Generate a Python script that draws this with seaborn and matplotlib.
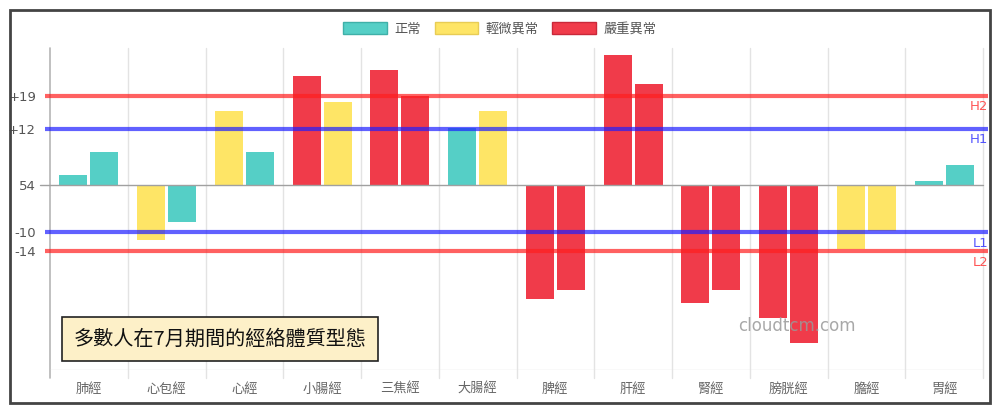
import numpy as np
import pandas as pd
import matplotlib
matplotlib.use("Agg")
import matplotlib.pyplot as plt
from matplotlib.patches import Patch, Rectangle
import seaborn as sns

# ---------------- data ----------------
categories = ["肺經", "心包經", "心經", "小腸經", "三焦經", "大腸經",
              "脾經", "肝經", "腎經", "膀胱經", "膽經", "胃經"]
first_values = [2.1, -11.7, 15.7, 23.2, 24.5, 12.1, -24.3, 27.7, -25.1, -28.3, -13.6, 0.9]
second_values = [7.0, -7.9, 7.0, 17.7, 18.9, 15.7, -22.3, 21.5, -22.3, -33.6, -9.8, 4.3]
first_status = ["正常", "輕微異常", "輕微異常", "嚴重異常", "嚴重異常", "正常",
                "嚴重異常", "嚴重異常", "嚴重異常", "嚴重異常", "輕微異常", "正常"]
second_status = ["正常", "正常", "正常", "輕微異常", "嚴重異常", "輕微異常",
                 "嚴重異常", "嚴重異常", "嚴重異常", "嚴重異常", "輕微異常", "正常"]
status_names = ["正常", "輕微異常", "嚴重異常"]
threshold_values = [19, 12, -10, -14]
threshold_names = ["H2", "H1", "L1", "L2"]
ytick_values = [19, 12, 0, -10, -14]
ytick_labels = ["+19", "+12", "54", "-10", "-14"]
title_text = "多數人在7月期間的經絡體質型態"
watermark = "cloudtcm.com"

# ---------------- styles ----------------
sns.set_theme(style="white")
plt.rcParams["font.family"] = ["Noto Sans CJK TC", "DejaVu Sans"]

status_colors = {"正常": "#55CFC6", "輕微異常": "#FEE566", "嚴重異常": "#F03B4A"}
status_edges = {"正常": "#3FB0A8", "輕微異常": "#E8CC55", "嚴重異常": "#C9283A"}
line_colors = {"H2": "#FF1E1E", "H1": "#1E1EFF", "L1": "#1E1EFF", "L2": "#FF1E1E"}

W, H = 1000, 415
fig = plt.figure(figsize=(W / 100, H / 100), dpi=100)
fig.patch.set_facecolor("white")

ax_left, ax_right, ax_top, ax_bottom = 50, 983, 48, 370
ax = fig.add_axes([ax_left / W, (H - ax_bottom) / H,
                   (ax_right - ax_left) / W, (ax_bottom - ax_top) / H])

df = pd.DataFrame({
    "category": categories * 2,
    "value": first_values + second_values,
    "slot": ["a"] * len(categories) + ["b"] * len(categories),
    "status": first_status + second_status,
})

sns.barplot(data=df, x="category", y="value", hue="slot", order=categories,
            hue_order=["a", "b"], palette=["#888888", "#888888"], width=0.8,
            gap=0.1, legend=False, ax=ax, linewidth=0, zorder=2)

bars = [p for p in ax.patches if isinstance(p, Rectangle)]
for p, st in zip(bars, df["status"]):
    p.set_facecolor(status_colors[st])
    p.set_edgecolor(status_colors[st])
    p.set_linewidth(0)

ppu = 4.7  # pixels per unit
ymax = (185 - ax_top) / ppu
ymin = -(ax_bottom - 185) / ppu
ax.set_ylim(ymin, ymax)
ax.set_xlim(-0.5, len(categories) - 0.5)

for s in ax.spines.values():
    s.set_visible(False)

# vertical grid lines at category boundaries
ext = 8 / ppu
for i in range(len(categories) + 1):
    xb = i - 0.5
    col = "#b5b5b5" if i == 0 else "#e3e3e3"
    ax.plot([xb, xb], [ymin - ext, ymax], color=col, lw=1.0 if i else 1.2,
            clip_on=False, zorder=1)
# bottom axis line
ax.axhline(ymin, color="#e3e3e3", lw=1.0, zorder=1)
# zero line
axw = ax_right - ax_left
ax.axhline(0, xmin=-10 / axw, xmax=1.0, color="#a0a0a0", lw=1.0, clip_on=False, zorder=3)

# threshold lines
for v, name in zip(threshold_values, threshold_names):
    ax.axhline(v, xmin=-5 / axw, xmax=(988 - ax_left) / axw, color=line_colors[name],
               lw=3, alpha=0.7, clip_on=False, zorder=4, solid_capstyle="butt")
    ax.text((988 - ax_left) / axw, v - 1.0, name, transform=ax.get_yaxis_transform(),
            ha="right", va="top", color=line_colors[name], fontsize=9.5,
            family="DejaVu Sans", alpha=0.75, clip_on=False)

ax.set_yticks(ytick_values)
ax.set_yticklabels(ytick_labels, family="DejaVu Sans")
ax.tick_params(axis="y", length=0, pad=10, labelsize=9.5, labelcolor="#555555")
ax.tick_params(axis="x", length=0, pad=9, labelsize=9.5, labelcolor="#666666")
ax.set_xlabel("")
ax.set_ylabel("")

# legend
handles = [Patch(facecolor=status_colors[s], edgecolor=status_edges[s], lw=1, label=s)
           for s in status_names]
fig.legend(handles=handles, loc="center", bbox_to_anchor=(0.5, 1 - 29 / H), ncol=3,
           frameon=False, fontsize=9.5, handlelength=3.3, handleheight=1.0,
           handletextpad=0.6, columnspacing=1.0, labelcolor="#555555")

# title box
fig.text(220 / W, 1 - 339 / H, title_text, ha="center", va="center", fontsize=14.5,
         color="#111111",
         bbox=dict(boxstyle="square,pad=0.55", fc="#FDF0C8", ec="#222222", lw=1.2))

# watermark
fig.text(797 / W, 1 - 326 / H, watermark, ha="center", va="center", fontsize=12,
         color="#999999", alpha=0.85, family="DejaVu Sans")

# outer frame
fig.add_artist(Rectangle((10 / W, 1 - 403 / H), 980 / W, 393 / H, transform=fig.transFigure,
                         fill=False, ec="#444444", lw=2))

fig.savefig("out.png", dpi=100)
